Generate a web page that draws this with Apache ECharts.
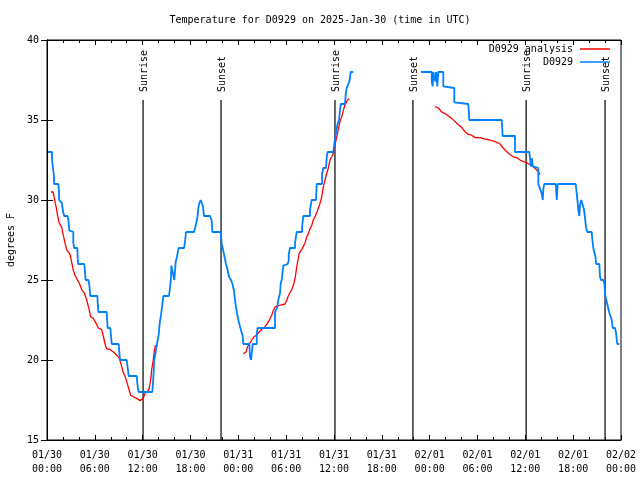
<!DOCTYPE html>
<html>
<head>
<meta charset="utf-8">
<script src="https://cdn.jsdelivr.net/npm/echarts@6/dist/echarts.min.js"></script>
<style>html,body{margin:0;padding:0;background:#fff}#c{width:640px;height:480px}</style>
</head>
<body>
<div id="c"></div>
<script>
// x values are hours since 2025-01-30 00:00 UTC
const tickLabels = ['01/30\n00:00','01/30\n06:00','01/30\n12:00','01/30\n18:00','01/31\n00:00','01/31\n06:00','01/31\n12:00','01/31\n18:00','02/01\n00:00','02/01\n06:00','02/01\n12:00','02/01\n18:00','02/02\n00:00'];
const eventHours = [12.05, 21.83, 36.12, 45.9, 60.1, 70.0];
const eventNames = ['Sunrise','Sunset','Sunrise','Sunset','Sunrise','Sunset'];
const seriesNames = ['D0929 analysis', 'D0929'];

const observed = [
[0.13,33.0],[0.63,33.0],[0.63,32.5],[0.75,32.5],[0.75,32.0],[0.88,31.5],[0.88,31.0],[1.42,31.0],[1.51,30.5],[1.51,30.0],[1.72,30.0],[1.88,29.8],[1.92,29.6],[2.04,29.2],[2.17,29.0],[2.55,29.0],[2.67,28.8],[2.80,28.1],[3.30,28.0],[3.30,27.3],[3.42,27.0],[3.80,27.0],[3.89,26.0],[4.68,26.0],[4.85,25.0],[5.18,25.0],[5.31,24.7],[5.43,24.0],[6.31,24.0],[6.44,23.0],[7.49,23.0],[7.61,22.0],[7.94,22.0],[8.12,21.0],[8.99,21.0],[9.16,20.0],[10.00,20.0],[10.25,19.0],[11.25,19.0],[11.38,18.3],[11.50,18.0],
[13.21,18.0],[13.33,18.85],[13.46,20.0],[13.76,20.9],[14.01,21.6],[14.14,22.3],[14.30,22.8],[14.43,23.3],[14.59,24.0],[15.30,24.0],[15.43,24.5],[15.55,25.1],[15.60,25.9],[15.72,25.6],[15.89,25.2],[15.97,25.0],[16.14,26.1],[16.27,26.4],[16.52,27.0],[17.19,27.0],[17.31,27.4],[17.44,28.0],[18.44,28.0],[18.65,28.4],[18.90,29.0],[18.95,29.4],[19.10,29.8],[19.28,30.0],[19.48,30.0],[19.57,29.6],[19.69,29.0],[20.45,29.0],[20.66,28.7],[20.74,28.0],[21.79,28.0],[21.91,27.3],[22.04,27.0],[22.24,27.0],[22.45,26.0],[22.62,25.7],[22.83,25.2],[23.08,25.0],[23.29,24.7],[23.46,24.3],[23.58,23.75],[23.71,23.3],[23.84,22.9],[24.00,22.5],[24.21,22.1],[24.42,22.0],[24.55,21.5],[24.62,21.0],[25.38,21.0],[25.46,20.2],[25.60,20.0],[25.68,20.0],[25.80,21.0],[26.31,21.0],[26.31,21.7],[26.43,22.0],[28.60,22.0],[28.60,23.0],[28.89,23.3],[29.01,23.75],[29.23,24.2],[29.32,24.8],[29.44,25.0],[29.64,25.9],[29.73,26.0],[30.19,26.0],[30.32,26.2],[30.32,26.6],[30.48,27.0],[31.11,27.0],[31.11,27.3],[31.32,28.0],[31.99,28.0],[31.99,28.3],[32.15,29.0],[32.99,29.0],[32.99,29.4],[33.20,30.0],[33.74,30.0],[33.83,31.0],[34.50,31.0],[34.50,31.6],[34.66,32.0],[35.00,32.0],[35.09,32.7],[35.21,33.0],[35.91,33.0],[36.04,33.5],[36.21,34.1],[36.42,34.7],[36.63,35.0],[36.84,36.0],[37.38,36.0],[37.47,36.6],[37.59,37.0],[37.92,37.4],[38.10,38.0],[38.42,38.0],
[42.0,null],
[46.91,38.0],[48.26,38.0],[48.26,37.4],[48.38,37.1],[48.46,38.0],[48.67,38.0],[48.71,37.4],[48.80,38.0],[48.88,37.7],[48.96,37.1],[49.08,38.0],[49.71,38.0],[49.71,37.1],[49.84,37.0],[51.09,37.0],[51.09,36.1],[52.85,36.0],[52.97,35.0],[57.04,35.0],[57.16,34.0],[58.70,34.0],[58.70,33.0],[60.50,33.0],[60.59,32.6],[60.71,32.1],[60.84,32.6],[60.93,32.1],[61.63,32.0],[61.63,31.0],[61.84,31.0],[62.05,30.4],[62.18,30.0],[62.26,30.7],[62.38,31.0],[63.81,31.0],[63.94,30.0],[64.06,31.0],[66.32,31.0],[66.45,30.4],[66.65,29.4],[66.77,29.0],[66.86,29.7],[67.02,30.0],[67.27,30.0],[67.36,29.4],[67.49,28.85],[67.61,28.3],[67.78,28.0],[68.33,28.0],[68.37,27.7],[68.53,27.0],[68.70,27.0],[68.78,26.5],[68.90,26.0],[69.28,26.0],[69.37,25.2],[69.49,25.0],[69.78,25.0],[69.91,24.8],[70.03,24.0],[70.21,24.0],[70.28,23.5],[70.50,23.0],[70.62,23.0],[70.84,22.5],[70.96,22.0],[71.25,22.0],[71.38,21.7],[71.47,21.25],[71.54,21.0],[71.79,21.0]
];

const analysis = [
[0.50,30.5],[0.79,30.5],[0.88,30.2],[1.00,29.9],[1.13,29.6],[1.34,29.0],[1.51,28.6],[1.76,28.5],[1.84,28.3],[2.04,27.8],[2.26,27.3],[2.47,26.9],[2.63,26.8],[2.89,26.6],[3.10,26.1],[3.30,25.6],[3.51,25.3],[3.73,25.2],[4.05,24.8],[4.35,24.4],[4.68,24.2],[4.98,23.75],[5.27,23.2],[5.48,22.7],[5.81,22.6],[6.15,22.3],[6.44,22.0],[6.86,21.9],[7.06,21.5],[7.28,21.0],[7.49,20.7],[7.90,20.67],[8.32,20.5],[8.74,20.3],[9.07,20.1],[9.37,19.6],[9.57,19.2],[9.78,19.0],[10.00,18.65],[10.20,18.3],[10.50,17.8],[10.83,17.7],[11.25,17.6],[11.67,17.46],[11.88,17.5],[12.08,17.6],[12.29,17.9],[12.71,18.1],[12.83,18.25],[13.01,18.75],[13.13,19.4],[13.33,20.0],[13.46,20.6],[13.59,20.9],[13.76,20.9],
[18.0,null],
[24.62,20.4],[24.96,20.5],[25.13,20.8],[25.38,21.0],[25.68,21.25],[25.97,21.46],[26.31,21.55],[26.63,21.77],[26.93,21.9],[27.35,22.1],[27.68,22.3],[27.89,22.5],[28.19,22.8],[28.39,23.1],[28.60,23.3],[29.01,23.4],[29.44,23.45],[29.86,23.5],[30.07,23.75],[30.27,24.0],[30.48,24.2],[30.70,24.4],[30.90,24.5],[30.98,24.8],[31.15,25.2],[31.32,25.8],[31.49,26.25],[31.65,26.7],[31.95,26.9],[32.15,27.1],[32.36,27.3],[32.58,27.7],[32.78,27.9],[32.99,28.2],[33.20,28.4],[33.40,28.75],[33.62,28.96],[33.83,29.2],[34.25,29.8],[34.46,30.2],[34.66,30.8],[34.87,31.25],[35.09,31.67],[35.29,32.0],[35.50,32.5],[35.71,32.7],[35.91,32.9],[36.13,33.44],[36.34,33.96],[36.54,34.4],[36.75,34.9],[36.97,35.2],[37.17,35.6],[37.38,35.94],[37.59,36.15],[37.80,36.3],[37.92,36.3],
[42.0,null],
[48.67,35.83],[49.09,35.75],[49.51,35.5],[49.93,35.4],[50.34,35.25],[50.77,35.1],[51.18,34.9],[51.59,34.7],[52.02,34.54],[52.43,34.27],[52.85,34.1],[53.27,34.05],[53.69,33.9],[54.32,33.9],[54.94,33.8],[55.57,33.75],[56.20,33.65],[56.83,33.5],[57.24,33.23],[57.67,33.02],[58.08,32.85],[58.49,32.7],[58.92,32.65],[59.33,32.5],[59.75,32.4],[60.17,32.33],[60.59,32.2],[61.00,32.08],[61.43,31.875],[61.84,31.6]
];

const FONT = 'DejaVu Sans Mono';
const chart = echarts.init(document.getElementById('c'), null, {renderer: 'canvas'});
const events = eventHours.map((h, i) => [h, eventNames[i]]);

const xCommon = {
  type: 'value', min: 0, max: 72, interval: 6,
  axisLine: {show: true, lineStyle: {color: '#000', width: 1}},
  axisTick: {show: true, inside: true, length: 5, lineStyle: {color: '#000'}},
  minorTick: {show: true, splitNumber: 3, length: 3, lineStyle: {color: '#000'}},
  splitLine: {show: false}, minorSplitLine: {show: false}
};
const yCommon = {
  type: 'value', min: 15, max: 40, interval: 5,
  axisLine: {show: true, lineStyle: {color: '#000', width: 1}},
  axisTick: {show: true, inside: true, length: 6, lineStyle: {color: '#000'}},
  splitLine: {show: false}
};
const legendCommon = {
  orient: 'vertical', align: 'right', right: 30, padding: 0,
  icon: 'rect', itemWidth: 30, itemHeight: 1.5, itemGap: 0, selectedMode: false,
  textStyle: {fontFamily: FONT, fontSize: 10, color: '#000', padding: [0, 2, 0, 0]}
};

chart.setOption({
  animation: false,
  backgroundColor: '#fff',
  title: {
    text: 'Temperature for D0929 on 2025-Jan-30 (time in UTC)',
    left: 'center', top: 15, padding: 0,
    textStyle: {fontFamily: FONT, fontSize: 10, fontWeight: 'normal', color: '#000'}
  },
  grid: {left: 47, right: 19, top: 40, bottom: 40, show: true, borderColor: '#000', borderWidth: 1,
         containLabel: false, outerBoundsMode: 'none'},
  legend: [
    Object.assign({}, legendCommon, {data: [seriesNames[0]], top: 44}),
    Object.assign({}, legendCommon, {data: [seriesNames[1]], top: 57})
  ],
  xAxis: [
    Object.assign({}, xCommon, {
      position: 'bottom',
      axisLabel: {
        show: true, margin: 8, color: '#000', fontFamily: FONT, fontSize: 10, lineHeight: 14,
        formatter: v => tickLabels[Math.round(v / 6)]
      }
    }),
    Object.assign({}, xCommon, {position: 'top', axisLabel: {show: false}})
  ],
  yAxis: [
    Object.assign({}, yCommon, {
      position: 'left',
      name: 'degrees F', nameLocation: 'middle', nameRotate: 90, nameGap: 31,
      nameTextStyle: {fontFamily: FONT, fontSize: 10, color: '#000'},
      axisLabel: {show: true, margin: 8, color: '#000', fontFamily: FONT, fontSize: 10}
    }),
    Object.assign({}, yCommon, {position: 'right', axisLabel: {show: false}})
  ],
  series: [
    {
      type: 'custom', name: 'events', xAxisIndex: 0, yAxisIndex: 0, z: 1,
      data: events,
      renderItem: function (params, api) {
        const h = api.value(0);
        const name = events[params.dataIndex][1];
        const b = api.coord([h, 15]);
        const t = api.coord([h, 36.25]);
        return {
          type: 'group',
          children: [
            {type: 'line', shape: {x1: b[0], y1: b[1], x2: t[0], y2: t[1]}, style: {stroke: '#000', lineWidth: 1.2}},
            {type: 'text', x: t[0] + 1.5, y: t[1] - 8, rotation: Math.PI / 2,
             style: {text: name, font: '10px ' + FONT, fill: '#000', align: 'left', verticalAlign: 'middle'}}
          ]
        };
      }
    },
    {
      type: 'line', name: seriesNames[0], data: analysis, xAxisIndex: 0, yAxisIndex: 0, z: 2,
      showSymbol: false, symbol: 'none', connectNulls: false,
      lineStyle: {color: '#ff0000', width: 1.3}, itemStyle: {color: '#ff0000'}
    },
    {
      type: 'line', name: seriesNames[1], data: observed, xAxisIndex: 0, yAxisIndex: 0, z: 3,
      showSymbol: false, symbol: 'none', connectNulls: false,
      lineStyle: {color: '#0080ff', width: 1.8}, itemStyle: {color: '#0080ff'}
    }
  ]
});
</script>
</body>
</html>
